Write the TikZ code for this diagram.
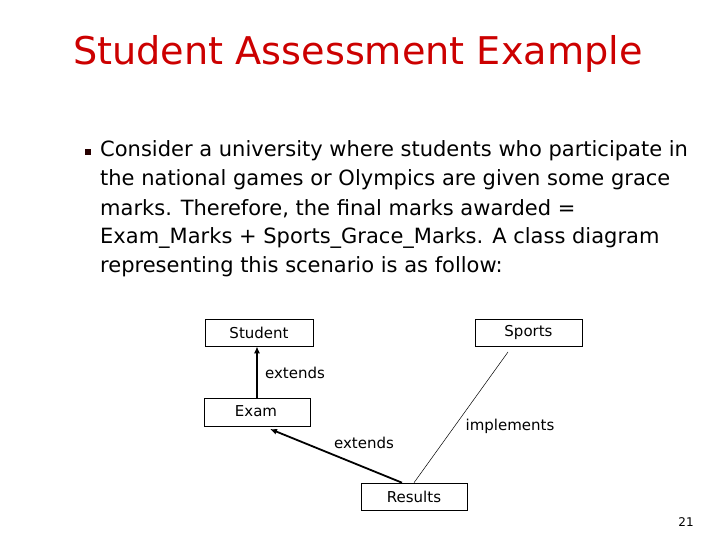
\documentclass[tikz,border=0pt]{standalone}
\usepackage{fontspec}
\setmainfont{DejaVu Sans}
\usetikzlibrary{arrows.meta}
\definecolor{titlered}{RGB}{204,0,0}
\begin{document}
\begin{tikzpicture}[x=1pt,y=-1pt,
  cls/.style={draw,line width=0.6pt,inner sep=0pt,font=\fontsize{15}{17}\selectfont},
  lbl/.style={font=\fontsize{15}{17}\selectfont},
  body/.style={anchor=west,inner sep=0pt,font=\fontsize{21}{25}\selectfont},
  ext/.style={line width=1.8pt,-{Latex[length=7pt,width=6pt]}},
  impl/.style={line width=0.5pt}]
\useasboundingbox[fill=white] (0,0) rectangle (720,540);
\node[anchor=west,inner sep=0pt,text=titlered,font=\fontsize{38.2}{42}\selectfont] (title) at (73,54) {Student Assessment Example};
\node[fill=black!85!red,minimum size=6pt,inner sep=0pt] (bul) at (88,152) {};
\node[body] (l1) at (100,151) {Consider a university where students who participate in};
\node[body] (l2) at (100,180) {the national games or Olympics are given some grace};
\node[body] (l3) at (100,209) {marks. Therefore, the f{}inal marks awarded =};
\node[body] (l4) at (100,238) {Exam\_Marks + Sports\_Grace\_Marks. A class diagram};
\node[body] (l5) at (100,267) {representing this scenario is as follow:};
\node[cls,minimum width=108pt,minimum height=27pt] (student) at (259,332.5) {Student};
\node[cls,minimum width=107pt,minimum height=27pt] (sports) at (528.5,332.5) {Sports};
\node[cls,minimum width=106pt,minimum height=28pt] (exam) at (257,412) {};
\node[lbl] (examt) at (256,411) {Exam};
\node[cls,minimum width=106pt,minimum height=27pt] (results) at (414,496.5) {Results};
\coordinate (s1) at (508,352);
\draw[ext] (exam.north -| 257,0) -- (student.south -| 257,0);
\draw[ext] (results.north -| 402,0) -- (270,429);
\draw[impl] (s1) -- (results.north -| 414,0);
\node[lbl] (e1) at (295,373) {extends};
\node[lbl] (e2) at (364,443) {extends};
\node[lbl] (im) at (510,426) {implements};
\node[font=\fontsize{12}{14}\selectfont] (pg) at (686,522) {21};
\end{tikzpicture}
\end{document}
